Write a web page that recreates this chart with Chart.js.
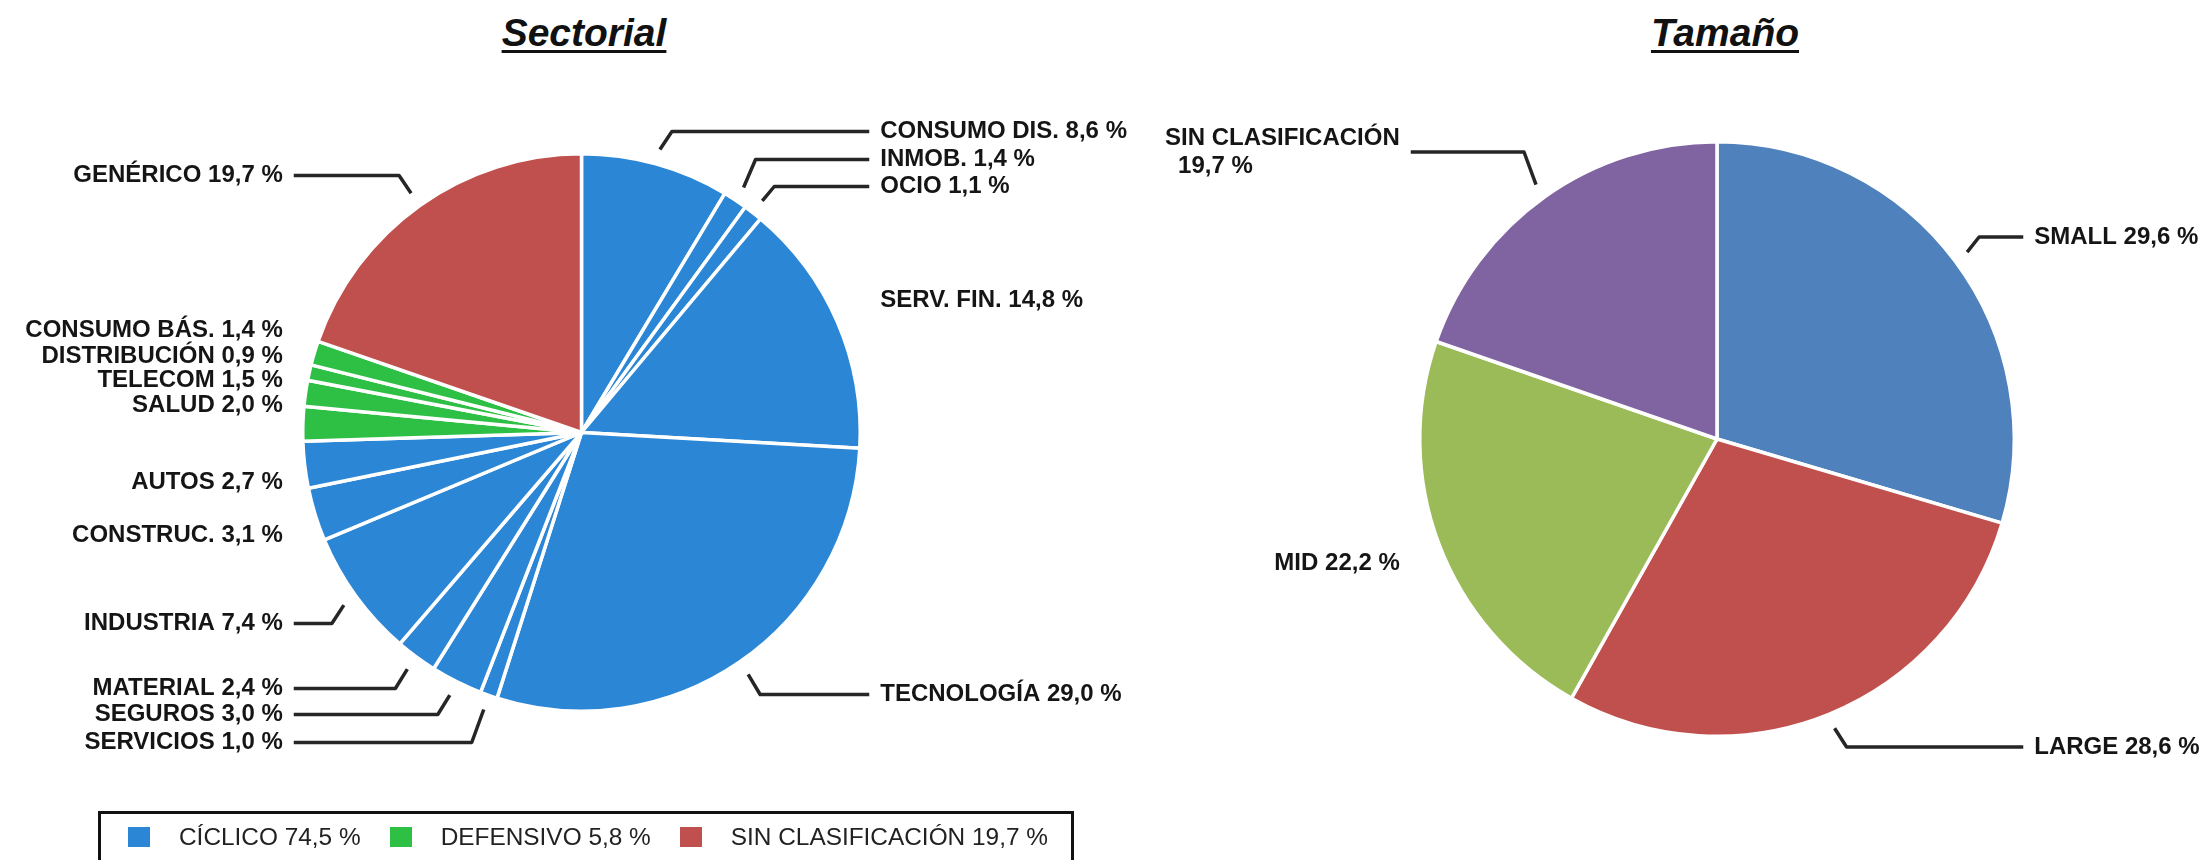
<!DOCTYPE html>
<html lang="es">
<head>
<meta charset="utf-8"/>
<title>Sectorial / Tamaño</title>
<script src="https://cdn.jsdelivr.net/npm/chart.js@4"></script>
<style>
  html, body { margin: 0; padding: 0; background: #fff; }
  body { width: 2205px; height: 860px; position: relative; overflow: hidden; font-family: "Liberation Sans", Arial, sans-serif; }
  .title { position: absolute; top: 11px; font: italic bold 39px "Liberation Sans", Arial, sans-serif; color: #111;
           text-decoration: underline; text-decoration-thickness: 3px; text-underline-offset: 4px; transform: translateX(-50%); white-space: nowrap; }
  #c1 { position: absolute; left: 0; top: 0; }
  #c2 { position: absolute; left: 1150px; top: 0; }
  .legend { position: absolute; left: 98px; top: 811px; width: 976px; height: 80px; border: 3px solid #111; box-sizing: border-box;
            display: flex; align-items: flex-start; padding: 9px 0 0 27px; font: 24.4px "Liberation Sans", Arial, sans-serif; color: #222; }
  .legend .sw { width: 22px; height: 20px; margin-top: 4px; margin-right: 29px; }
  .legend .it { display: flex; margin-right: 29px; line-height: 28px; white-space: nowrap; }
</style>
</head>
<body>
<div class="title" style="left:584px">Sectorial</div>
<div class="title" style="left:1725px">Tamaño</div>
<canvas id="c1" width="1150" height="860"></canvas>
<canvas id="c2" width="1055" height="860"></canvas>
<div class="legend" id="legend"></div>

<script>
// sectorial breakdown, clockwise from 12 o'clock
const sectorLabels = ['CONSUMO DIS.', 'INMOB.', 'OCIO', 'SERV. FIN.', 'TECNOLOGÍA', 'SERVICIOS', 'SEGUROS',
  'MATERIAL', 'INDUSTRIA', 'CONSTRUC.', 'AUTOS', 'SALUD', 'TELECOM', 'DISTRIBUCIÓN', 'CONSUMO BÁS.', 'GENÉRICO'];
const sectorValues = [8.6, 1.4, 1.1, 14.8, 29.0, 1.0, 3.0, 2.4, 7.4, 3.1, 2.7, 2.0, 1.5, 0.9, 1.4, 19.7];
const sectorGroup = [0, 0, 0, 0, 0, 0, 0, 0, 0, 0, 0, 1, 1, 1, 1, 2];

// groups shown in the legend
const groupLabels = ['CÍCLICO', 'DEFENSIVO', 'SIN CLASIFICACIÓN'];
const groupValues = [74.5, 5.8, 19.7];
const groupColors = ['#2B86D6', '#2EBF45', '#C0504D'];

// size breakdown
const sizeLabels = ['SMALL', 'LARGE', 'MID', 'SIN CLASIFICACIÓN'];
const sizeValues = [29.6, 28.6, 22.2, 19.7];
const sizeColors = ['#4F81BD', '#C0504D', '#9BBB59', '#8064A2'];

// label placement: vertical offset from pie centre, leader line on/off
const sectorLabelDy = [-301, -273, -246, -132, 262, 310, 282, 256, 191, 103, 50, -27, -52, -76, -102, -257];
const sectorLeader  = [1, 1, 1, 0, 1, 1, 1, 1, 1, 0, 0, 0, 0, 0, 0, 1];
const sizeLabelDy = [-202, 308, 124, -287];
const sizeLeader  = [1, 1, 0, 1];
const sizeWrap    = [0, 0, 0, 1];

const fmt = v => v.toFixed(1).replace('.', ',') + ' %';
const labelFont = 'bold 24px "Liberation Sans", Arial, sans-serif';

const leaderLabels = {
  id: 'leaderLabels',
  afterDatasetsDraw(chart, args, opts) {
    const ctx = chart.ctx;
    const meta = chart.getDatasetMeta(0);
    const values = chart.data.datasets[0].data;
    ctx.save();
    ctx.font = labelFont;
    ctx.fillStyle = '#151515';
    ctx.strokeStyle = '#262626';
    ctx.lineWidth = 3.5;
    ctx.lineJoin = 'round';
    ctx.textBaseline = 'middle';
    meta.data.forEach((arc, i) => {
      const p = arc.getProps(['x', 'y', 'startAngle', 'endAngle', 'outerRadius'], true);
      const mid = (p.startAngle + p.endAngle) / 2;
      const side = Math.cos(mid) >= 0 ? 1 : -1;
      const R = p.outerRadius;
      const ty = p.y + opts.dy[i];
      const tx = p.x + side * (R + 20);
      if (opts.leader[i]) {
        const sx = p.x + Math.cos(mid) * (R + 15);
        const sy = p.y + Math.sin(mid) * (R + 15);
        ctx.beginPath();
        ctx.moveTo(sx, sy);
        ctx.lineTo(sx + side * 12, ty);
        ctx.lineTo(p.x + side * (R + 9), ty);
        ctx.stroke();
      }
      const name = chart.data.labels[i];
      const val = fmt(values[i]);
      if (opts.wrap && opts.wrap[i]) {
        ctx.textAlign = 'right';
        ctx.fillText(name, tx, ty - 14);
        const w = ctx.measureText(name).width;
        ctx.textAlign = 'left';
        ctx.fillText(val, tx - w + 13, ty + 14);
      } else {
        ctx.textAlign = side > 0 ? 'left' : 'right';
        ctx.fillText(name + ' ' + val, tx, ty);
      }
    });
    ctx.restore();
  }
};

const baseOptions = (pad, labelOpts) => ({
  responsive: false,
  animation: false,
  layout: { padding: pad },
  plugins: {
    legend: { display: false },
    tooltip: { enabled: false },
    leaderLabels: labelOpts
  }
});

new Chart(document.getElementById('c1'), {
  type: 'pie',
  data: {
    labels: sectorLabels,
    datasets: [{
      data: sectorValues,
      backgroundColor: sectorGroup.map(g => groupColors[g]),
      borderColor: '#fff',
      borderWidth: 3.5
    }]
  },
  options: baseOptions({ left: 301, right: 288, top: 152, bottom: 147 },
    { dy: sectorLabelDy, leader: sectorLeader }),
  plugins: [leaderLabels]
});

new Chart(document.getElementById('c2'), {
  type: 'pie',
  data: {
    labels: sizeLabels,
    datasets: [{
      data: sizeValues,
      backgroundColor: sizeColors,
      borderColor: '#fff',
      borderWidth: 3.5
    }]
  },
  options: baseOptions({ left: 268, right: 189, top: 140, bottom: 122 },
    { dy: sizeLabelDy, leader: sizeLeader, wrap: sizeWrap }),
  plugins: [leaderLabels]
});

// legend box under the sectorial pie
const legend = document.getElementById('legend');
groupLabels.forEach((g, i) => {
  const it = document.createElement('div');
  it.className = 'it';
  it.innerHTML = '<div class="sw" style="background:' + groupColors[i] + '"></div><span>' + g + ' ' + fmt(groupValues[i]) + '</span>';
  legend.appendChild(it);
});
</script>
</body>
</html>
